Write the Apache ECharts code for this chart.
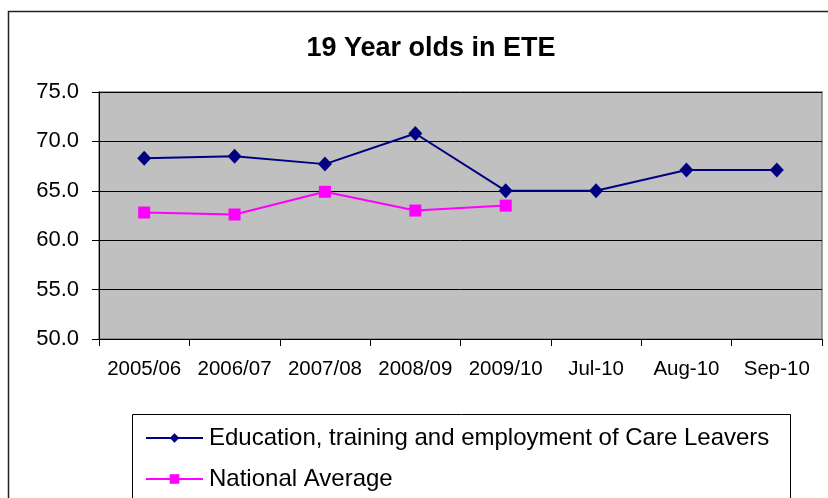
<!DOCTYPE html>
<html>
<head>
<meta charset="utf-8">
<script src="https://cdn.jsdelivr.net/npm/echarts@6/dist/echarts.min.js"></script>
<style>
  html, body { margin: 0; padding: 0; background: #fff; }
  #chart { width: 828px; height: 498px; }
</style>
</head>
<body>
<div id="chart"></div>
<script>
const categories = ["2005/06", "2006/07", "2007/08", "2008/09", "2009/10", "Jul-10", "Aug-10", "Sep-10"];
const careLeavers = [68.3, 68.5, 67.7, 70.8, 65.0, 65.0, 67.1, 67.1];
const nationalAvg = [62.8, 62.6, 64.9, 63.0, 63.5, null, null, null];
const seriesNames = ["Education, training and employment of Care Leavers", "National Average"];

const font = "'Liberation Sans', Arial, sans-serif";
const chart = echarts.init(document.getElementById("chart"));

const option = {
  animation: false,
  backgroundColor: "#fff",
  title: {
    text: "19 Year olds in ETE",
    left: 426,
    textAlign: "center",
    top: 30,
    textStyle: { fontFamily: font, fontSize: 27, fontWeight: "bold", color: "#000" }
  },
  graphic: [
    {
      // outer chart border
      type: "rect",
      shape: { x: 8.5, y: 11.5, width: 830, height: 500 },
      style: { fill: "none", stroke: "#222", lineWidth: 1.5 },
      z: -1
    },
    {
      // legend box
      type: "rect",
      shape: { x: 132.5, y: 414.5, width: 658, height: 100 },
      style: { fill: "#fff", stroke: "#000", lineWidth: 1 },
      z: 0
    }
  ],
  grid: {
    left: 99,
    right: 6,
    top: 92,
    bottom: 159,
    show: true,
    backgroundColor: "#C0C0C0",
    borderColor: "#808080",
    borderWidth: 1.5
  },
  legend: {
    orient: "vertical",
    left: 140,
    top: 421,
    itemWidth: 57,
    itemHeight: 12,
    itemGap: 17,
    data: seriesNames,
    textStyle: { fontFamily: font, fontSize: 24, color: "#000", padding: [0, 0, 0, 1] },
    z: 5
  },
  xAxis: {
    type: "category",
    data: categories,
    boundaryGap: true,
    axisLine: { lineStyle: { color: "#000", width: 1 } },
    axisTick: { show: true, length: 7, interval: 0, lineStyle: { color: "#000" } },
    axisLabel: { fontFamily: font, fontSize: 20.5, color: "#000", margin: 20, interval: 0, hideOverlap: false },
    splitLine: { show: false }
  },
  yAxis: {
    type: "value",
    min: 50,
    max: 75,
    interval: 5,
    axisLine: { show: true, lineStyle: { color: "#000", width: 1 } },
    axisTick: { show: true, length: 7, lineStyle: { color: "#000" } },
    axisLabel: {
      fontFamily: font,
      fontSize: 22,
      color: "#000",
      margin: 20,
      formatter: function (v) { return v.toFixed(1); }
    },
    splitLine: { show: true, lineStyle: { color: "#000", width: 1 } }
  },
  series: [
    {
      name: seriesNames[0],
      type: "line",
      data: careLeavers,
      symbol: "diamond",
      symbolSize: [14, 15],
      lineStyle: { color: "#000080", width: 2 },
      itemStyle: { color: "#000080" }
    },
    {
      name: seriesNames[1],
      type: "line",
      data: nationalAvg,
      symbol: "rect",
      symbolSize: 12,
      connectNulls: false,
      lineStyle: { color: "#FF00FF", width: 2 },
      itemStyle: { color: "#FF00FF" }
    }
  ]
};

chart.setOption(option);
</script>
</body>
</html>
